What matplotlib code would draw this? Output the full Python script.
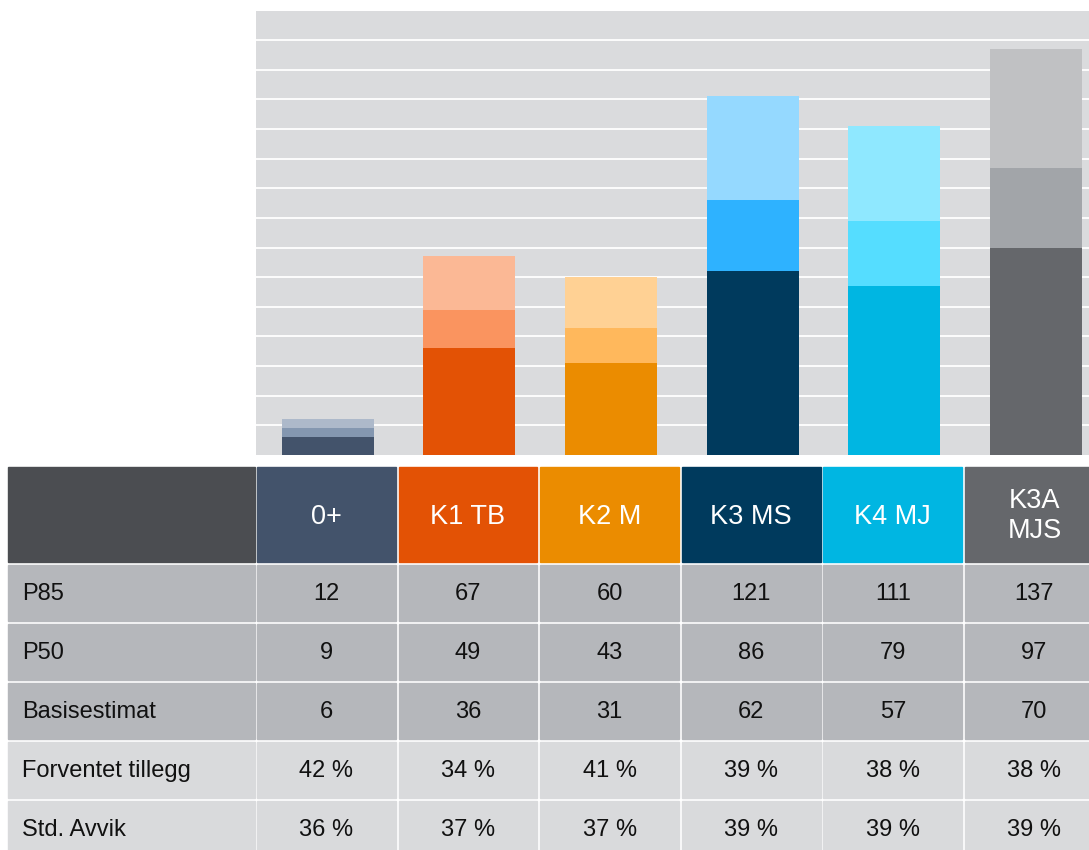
import numpy as np
import matplotlib.pyplot as plt
from matplotlib.patches import Rectangle

plt.rcParams['font.family'] = ['Liberation Sans', 'DejaVu Sans']

# data
categories = ["0+", "K1 TB", "K2 M", "K3 MS", "K4 MJ", "K3A\nMJS"]
p85 = [12, 67, 60, 121, 111, 137]
p50 = [9, 49, 43, 86, 79, 97]
basis = [6, 36, 31, 62, 57, 70]
forventet = ["42 %", "34 %", "41 %", "39 %", "38 %", "38 %"]
std_avvik = ["36 %", "37 %", "37 %", "39 %", "39 %", "39 %"]
row_labels = ["P85", "P50", "Basisestimat", "Forventet tillegg", "Std. Avvik"]

# colours per category: base, mid, light
base_colors = ["#43536B", "#E35205", "#EB8C00", "#003A5D", "#00B6E2", "#65676B"]
mid_colors = ["#8497B0", "#FA945F", "#FFB85C", "#2EB2FF", "#55DDFF", "#A2A5A9"]
light_colors = ["#ADB9CA", "#FBB895", "#FFD194", "#95D9FF", "#8FE8FF", "#C0C1C3"]

W, H = 1089, 850
fig = plt.figure(figsize=(W / 100, H / 100), dpi=100)

# layout in pixels
col_x0 = 257
col_pitch = 141.6
col_w = 138.8
plot_left, plot_right = 256, 1089
plot_top, plot_bottom = 10.5, 455

ax = fig.add_axes([plot_left / W, 1 - plot_bottom / H,
                   (plot_right - plot_left) / W, (plot_bottom - plot_top) / H])
ax.set_facecolor("#DADBDD")
x = np.arange(len(categories))
bw = 92 / col_pitch
ax.bar(x, basis, width=bw, color=base_colors, zorder=3)
ax.bar(x, np.subtract(p50, basis), bottom=basis, width=bw, color=mid_colors, zorder=3)
ax.bar(x, np.subtract(p85, p50), bottom=p50, width=bw, color=light_colors, zorder=3)
off = (col_x0 - plot_left) / col_pitch
ax.set_xlim(-0.5 - off, -0.5 - off + (plot_right - plot_left) / col_pitch)
ax.set_ylim(0, 150)
ax.set_yticks(np.arange(10, 150, 10))
ax.grid(axis="y", color="white", linewidth=1.3, zorder=1)
ax.tick_params(length=0, labelleft=False, labelbottom=False)
for s in ax.spines.values():
    s.set_visible(False)

# table
tab = fig.add_axes([0, 0, 1, 1])
tab.set_xlim(0, W)
tab.set_ylim(H, 0)
tab.axis("off")

head_top, head_h = 467, 95
row_top0, row_pitch, row_h = 565, 59, 56
label_x0, label_w = 8, 246.5

tab.add_patch(Rectangle((label_x0, head_top), label_w, head_h, color="#4B4D51"))
for i, cat in enumerate(categories):
    cx = col_x0 + i * col_pitch
    tab.add_patch(Rectangle((cx, head_top), col_w, head_h, color=base_colors[i]))
    tab.text(cx + col_w / 2, head_top + head_h / 2 + 2, cat, color="white",
             fontsize=19.5, ha="center", va="center", linespacing=1.2)

rows = [p85, p50, basis, forventet, std_avvik]
row_colors = ["#B5B7BB", "#B5B7BB", "#B5B7BB", "#D9DADC", "#D9DADC"]
for r, (lab, vals) in enumerate(zip(row_labels, rows)):
    ry = row_top0 + r * row_pitch
    tab.add_patch(Rectangle((label_x0, ry), label_w, row_h, color=row_colors[r]))
    tab.text(22, ry + row_h / 2 + 1, lab, fontsize=17, ha="left", va="center", color="#111111")
    for i, v in enumerate(vals):
        cx = col_x0 + i * col_pitch
        tab.add_patch(Rectangle((cx, ry), col_w, row_h, color=row_colors[r]))
        tab.text(cx + col_w / 2, ry + row_h / 2 + 1, str(v), fontsize=17,
                 ha="center", va="center", color="#111111")

fig.savefig("out.png", dpi=100)
